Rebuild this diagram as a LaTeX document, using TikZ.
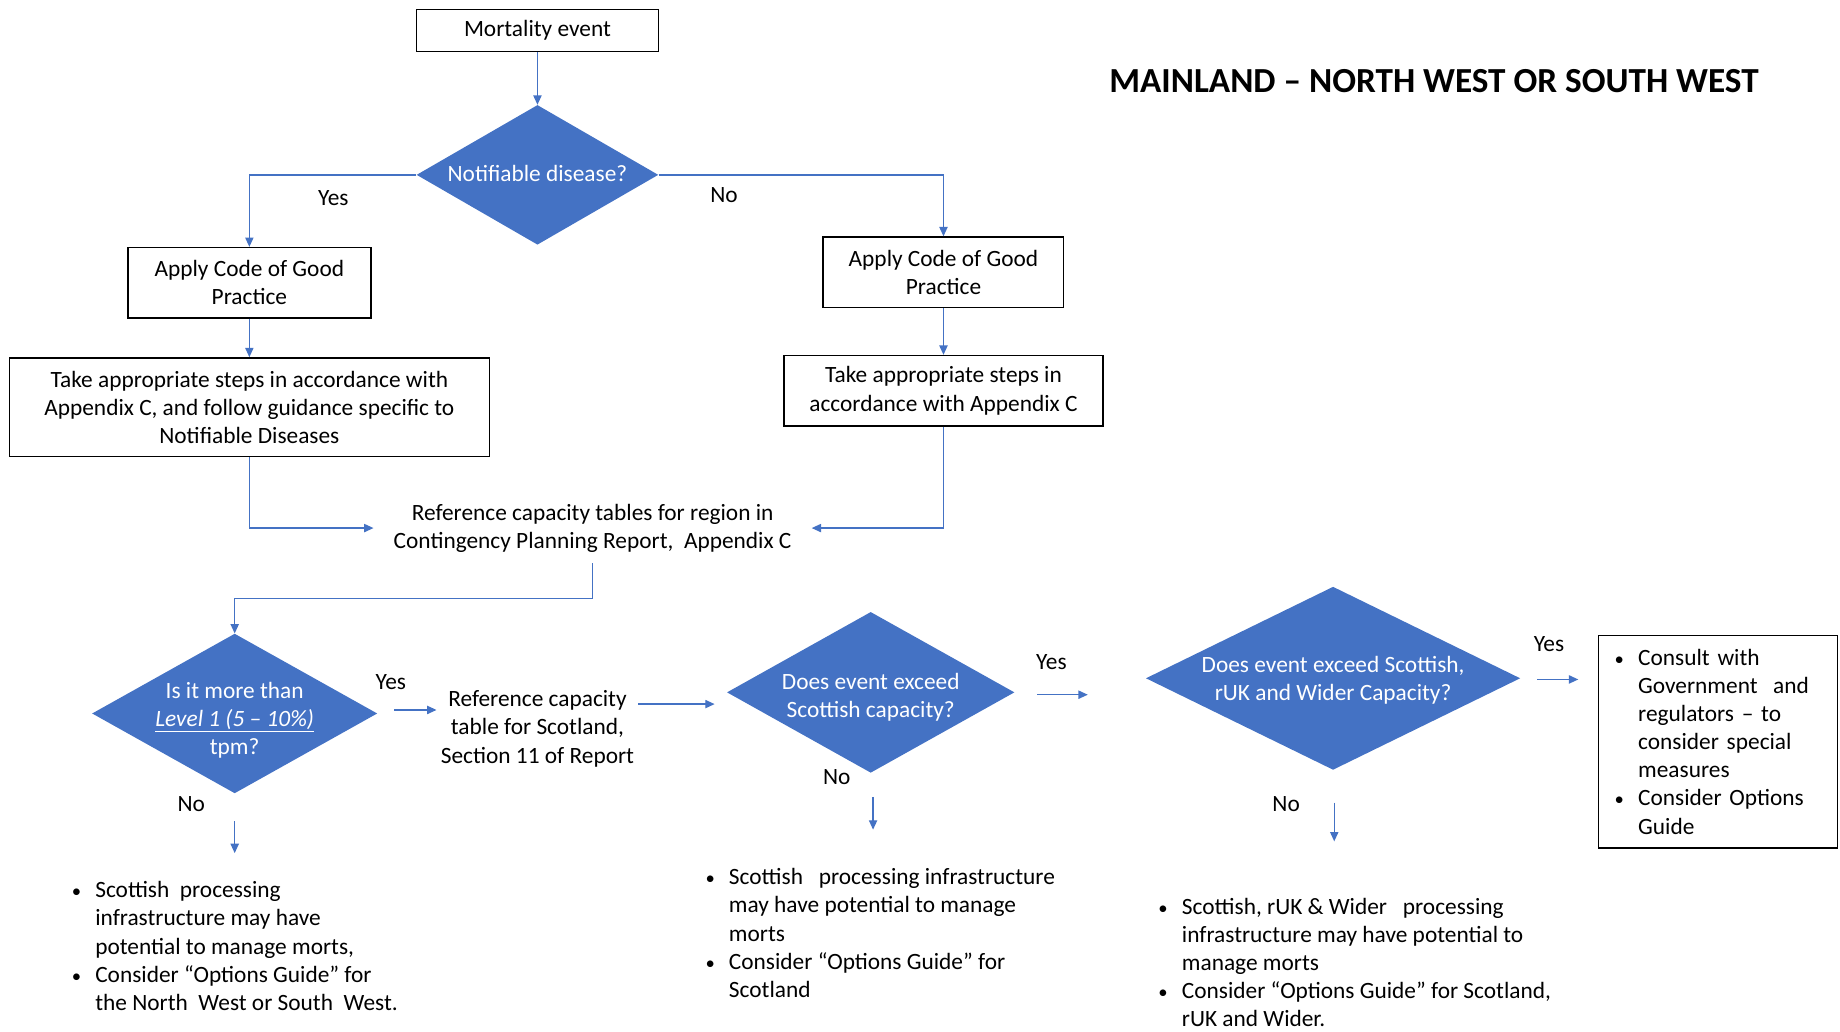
\documentclass[tikz,border=0pt]{standalone}
\usepackage{fontspec}
\usepackage{graphicx}
\setmainfont{Carlito}
\usetikzlibrary{shapes.geometric,arrows.meta}
\definecolor{officeblue}{HTML}{4472C4}
\newcommand\bul{\makebox[20pt][l]{\scalebox{0.8}{\textbullet}}}
\newcommand\ind{\hspace*{20pt}}
\begin{document}
\begin{tikzpicture}[x=1pt,y=-1pt,
  every node/.style={font=\fontsize{19.9}{24}\selectfont},
  box/.style={draw=black,line width=1.2pt,inner sep=0pt,align=center},
  decision/.style={diamond,fill=officeblue,inner sep=0pt},
  dtext/.style={text=white,align=center,inner sep=0pt},
  flow/.style={draw=officeblue,line width=1.2pt,-{Triangle[length=8pt,width=7pt]}},
  lbl/.style={inner sep=0pt},
  plain/.style={inner sep=0pt,align=center},
  bullets/.style={inner sep=0pt,align=left,anchor=north west}]
\useasboundingbox (0,0) rectangle (1568,879);

% title
\node[font=\fontsize{30}{36}\selectfont\bfseries] (title) at (1222,69)
  {MAINLAND – NORTH WEST OR SOUTH WEST};

% upper part
\node[box,minimum width=206pt,minimum height=36pt] (mort) at (458,26) {Mortality event};
\node[decision,minimum width=206pt,minimum height=119pt] (d0) at (458,149) {};
\node[dtext] (d0t) at (458,148) {Notifiable disease?};

\node[box,minimum width=207pt,minimum height=60pt] (lcode) at (212.5,241)
  {Apply Code of Good\\Practice};
\node[box,minimum width=409pt,minimum height=84pt] (lsteps) at (212.5,347)
  {Take appropriate steps in accordance with\\Appendix C, and follow guidance specific to\\Notifiable Diseases};

\node[box,minimum width=205pt,minimum height=60pt] (rcode) at (804,232)
  {Apply Code of Good\\Practice};
\node[box,minimum width=272pt,minimum height=60pt] (rsteps) at (804,333)
  {Take appropriate steps in\\accordance with Appendix C};

\node[plain,inner xsep=17pt,inner ysep=9pt] (ref1) at (505,450)
  {Reference capacity tables for region in\\Contingency Planning Report,~ Appendix C};

\draw[flow] (mort.south) -- (d0.north);
\draw[flow] (d0.west) -| (lcode.north);
\draw[flow] (d0.east) -| (rcode.north);
\draw[flow] (lcode.south) -- (lsteps.north);
\draw[flow] (rcode.south) -- (rsteps.north);
\draw[flow] (lsteps.south) |- (ref1.west);
\draw[flow] (rsteps.south) |- (ref1.east);

\node[lbl] (yes0) at (284,169) {Yes};
\node[lbl] (no0) at (617,166) {No};

% lower row of decisions
\node[decision,minimum width=243pt,minimum height=136pt] (d1) at (200,608) {};
\node[dtext] (d1t) at (200,614)
  {Is it more than\\\underline{\textit{Level 1 (5 – 10\%)}}\\tpm?};
\draw[flow] (ref1.south) -- ++(0,30) -| (d1.north);

\node[plain] (ref2) at (458,621) {Reference capacity\\table for Scotland,\\Section 11 of Report};

\node[decision,minimum width=245pt,minimum height=137pt] (d2) at (742,590) {};
\node[dtext] (d2t) at (742,594) {Does event exceed\\Scottish capacity?};

\node[decision,minimum width=319pt,minimum height=156pt] (d3) at (1136,578) {};
\node[dtext] (d3t) at (1136,580) {Does event exceed Scottish,\\rUK and Wider Capacity?};

\node[box,minimum width=204pt,minimum height=181pt,text width=176pt,inner xsep=14pt,align=left]
  (cons) at (1464,632)
  {\bul Consult with\\\ind Government~ and\\\ind regulators – to\\\ind consider special\\\ind measures\\\bul Consider Options\\\ind Guide};

% free-standing Yes / No arrows
\coordinate (y1a) at (336,605);  \coordinate (y1b) at (372,605);
\coordinate (r2a) at (544,600);  \coordinate (r2b) at (609,600);
\coordinate (y2a) at (884,592);  \coordinate (y2b) at (927,592);
\coordinate (y3a) at (1310,579); \coordinate (y3b) at (1345,579);
\coordinate (n1a) at (200,700);  \coordinate (n1b) at (200,727);
\coordinate (n2a) at (744,679);  \coordinate (n2b) at (744,707);
\coordinate (n3a) at (1137,684); \coordinate (n3b) at (1137,717);
\draw[flow] (y1a) -- (y1b);
\draw[flow] (r2a) -- (r2b);
\draw[flow] (y2a) -- (y2b);
\draw[flow] (y3a) -- (y3b);
\draw[flow] (n1a) -- (n1b);
\draw[flow] (n2a) -- (n2b);
\draw[flow] (n3a) -- (n3b);

\node[lbl] (yes1) at (333,581) {Yes};
\node[lbl] (no1) at (163,685) {No};
\node[lbl] (yes2) at (896,564) {Yes};
\node[lbl] (no2) at (713,662) {No};
\node[lbl] (yes3) at (1320,549) {Yes};
\node[lbl] (no3) at (1096,685) {No};

% outcome lists
\node[bullets] (b1) at (61,751)
  {\bul Scottish~ processing\\\ind infrastructure may have\\\ind potential to manage morts,\\\bul Consider “Options Guide” for\\\ind the North~ West or South~ West.};
\node[bullets] (b2) at (601,740)
  {\bul Scottish~~ processing infrastructure\\\ind may have potential to manage\\\ind morts\\\bul Consider “Options Guide” for\\\ind Scotland};
\node[bullets] (b3) at (987,765)
  {\bul Scottish, rUK \& Wider~~ processing\\\ind infrastructure may have potential to\\\ind manage morts\\\bul Consider “Options Guide” for Scotland,\\\ind rUK and Wider.};
\end{tikzpicture}
\end{document}
